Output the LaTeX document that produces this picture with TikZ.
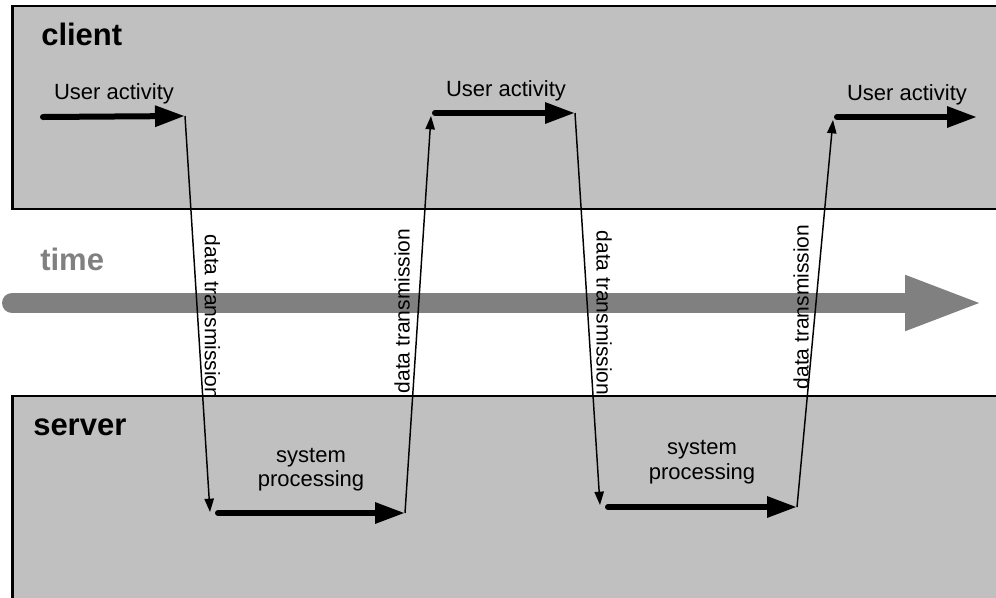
\documentclass[tikz,border=0pt]{standalone}
\usepackage{fontspec}
\setmainfont{Liberation Sans}
\usetikzlibrary{arrows.meta}

\definecolor{panelgray}{HTML}{C0C0C0}
\definecolor{timegray}{HTML}{808080}

\tikzset{
  panel/.style={draw=black, line width=1.6pt, fill=panelgray},
  heading/.style={font=\fontsize{23.25}{28}\selectfont\bfseries, anchor=base west, inner sep=0pt},
  small/.style={font=\fontsize{16.5}{20}\selectfont, anchor=base, inner sep=0pt},
  dtlabel/.style={font=\fontsize{15.75}{19}\selectfont, inner sep=0pt},
  activity/.style={line width=4.5pt, line cap=round, -{Triangle[length=22.5pt,width=15pt]}},
  transfer/.style={line width=1.1pt, -{Triangle[length=10pt,width=7pt]}},
  timeline/.style={timegray, line width=15pt, line cap=round, -{Triangle[length=60pt,width=37pt]}}
}

\begin{document}
\begin{tikzpicture}[x=0.75pt, y=-0.75pt]
  \useasboundingbox (0,0) rectangle (996,597);
  \clip (0,0) rectangle (996,597);

  % time axis
  \coordinate (t0) at (12,303);
  \coordinate (t1) at (985,303);
  \draw[timeline] (t0) -- (t1);
  \node[heading, text=timegray] (timelbl) at (40,270) {time};

  % labels of the transfers (drawn before the panels, which overlap them)
  \node[dtlabel, rotate=-90] (dt1) at (212.5,317) {data transmission};
  \node[dtlabel, rotate=90]  (dt2) at (402,311) {data transmission};
  \node[dtlabel, rotate=-90] (dt3) at (604,313) {data transmission};
  \node[dtlabel, rotate=90]  (dt4) at (801,307) {data transmission};

  % client and server panels
  \draw[panel] (12.5,6) rectangle (1010,209);
  \draw[panel] (12.5,396) rectangle (1010,620);
  \node[heading] (client) at (41,45) {client};
  \node[heading] (server) at (33,435) {server};

  % end points of the activity arrows
  \coordinate (a1s) at (43,117);  \coordinate (a1e) at (185,116);
  \coordinate (p1s) at (218,513); \coordinate (p1e) at (405,513);
  \coordinate (a2s) at (435,113); \coordinate (a2e) at (575,113);
  \coordinate (p2s) at (608,507); \coordinate (p2e) at (797,507);
  \coordinate (a3s) at (837,117); \coordinate (a3e) at (977,117);
  % arrival points of the transfers
  \coordinate (d1) at (210,512);
  \coordinate (d2) at (431,116);
  \coordinate (d3) at (600,505);
  \coordinate (d4) at (833,120);

  % user activity and system processing
  \draw[activity] (a1s) -- (a1e);
  \draw[activity] (p1s) -- (p1e);
  \draw[activity] (a2s) -- (a2e);
  \draw[activity] (p2s) -- (p2e);
  \draw[activity] (a3s) -- (a3e);

  % data transmissions
  \draw[transfer] (a1e) -- (d1);
  \draw[transfer] (p1e) -- (d2);
  \draw[transfer] (a2e) -- (d3);
  \draw[transfer] (p2e) -- (d4);

  % arrow captions
  \node[small] (ua1) at (114,99) {User activity};
  \node[small] (ua2) at (506,96) {User activity};
  \node[small] (ua3) at (907,100) {User activity};
  \node[small] (sp1a) at (311,462) {system};
  \node[small] (sp1b) at (311,486) {processing};
  \node[small] (sp2a) at (702,454) {system};
  \node[small] (sp2b) at (702,479) {processing};
\end{tikzpicture}
\end{document}
